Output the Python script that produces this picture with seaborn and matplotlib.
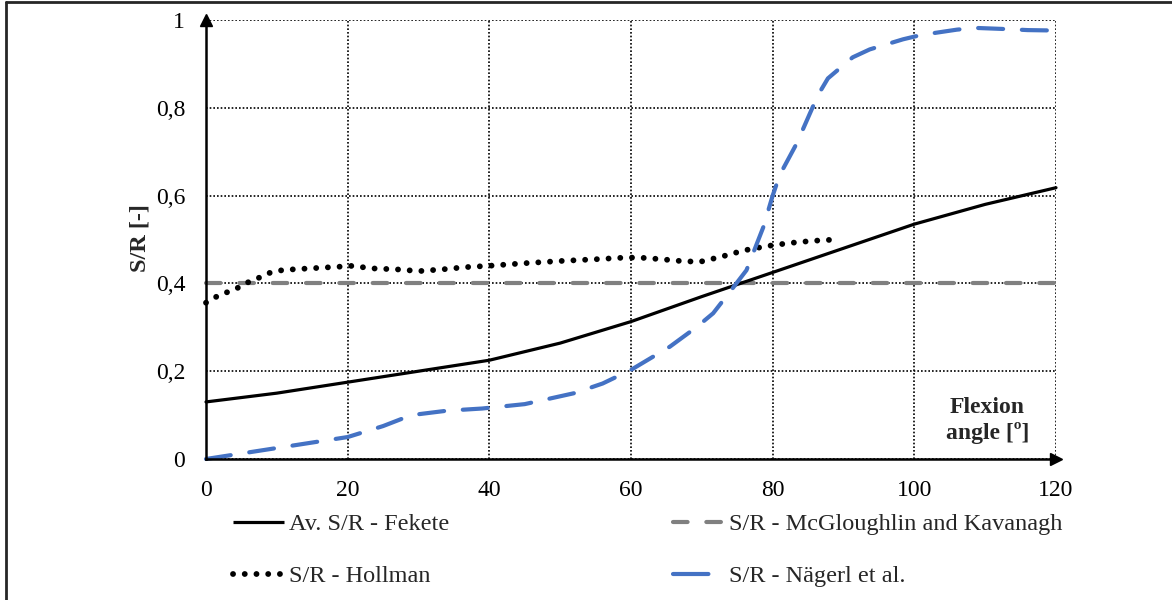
import numpy as np
import pandas as pd
import matplotlib.pyplot as plt
from matplotlib.lines import Line2D
import seaborn as sns

# Av. S/R - Fekete
fek_x = [0, 10, 20, 30, 40, 50, 60, 70, 80, 90, 100, 110, 120]
fek_y = [0.13, 0.15, 0.175, 0.20, 0.225, 0.264, 0.313, 0.37, 0.425, 0.48, 0.535, 0.58, 0.618]

# S/R - McGloughlin and Kavanagh
mcg_x = [0, 120]
mcg_y = [0.4, 0.4]

# S/R - Hollman
hol_x = [0, 1.5, 3, 4.5, 6, 7.5, 9, 10.7, 12.3, 15.5, 18.8, 20.4, 23.7, 26.9, 30.1,
         33.4, 36.6, 39.9, 45, 50, 55, 59.4, 62, 64.3, 67, 69.7, 72.8, 75.9,
         79.2, 82.4, 85.7, 89]
hol_y = [0.356, 0.37, 0.38, 0.39, 0.403, 0.413, 0.424, 0.43, 0.432, 0.435, 0.438, 0.44,
         0.434, 0.432, 0.428, 0.432, 0.437, 0.44, 0.446, 0.451, 0.455, 0.459, 0.458,
         0.455, 0.451, 0.449, 0.461, 0.475, 0.485, 0.492, 0.497, 0.5]

# S/R - Nägerl et al.
nag_x = [0, 10, 20, 25, 29, 34, 39, 45, 52, 56, 60, 65.5, 69.3, 71.6, 74.4, 76.3,
         78.7, 80, 81, 83.4, 86.4, 87.8, 91.3, 93.7, 98.4, 101, 106, 108.6, 113.5,
         116, 120]
nag_y = [0, 0.025, 0.05, 0.075, 0.1, 0.11, 0.115, 0.125, 0.15, 0.172, 0.203, 0.256,
         0.301, 0.332, 0.39, 0.43, 0.529, 0.6, 0.647, 0.719, 0.829, 0.867, 0.915,
         0.933, 0.956, 0.966, 0.978, 0.982, 0.979, 0.977, 0.976]

xticks = [0, 20, 40, 60, 80, 100, 120]
yticks = [0, 0.2, 0.4, 0.6, 0.8, 1.0]
ytick_labels = ['0', '0,2', '0,4', '0,6', '0,8', '1']

BLUE = '#4472C4'
GREY = '#808080'
DOTS = (0, (0.01, 2.0))

sns.set_theme(style='white')
plt.rcParams['font.family'] = ['Liberation Serif', 'DejaVu Serif']

fig = plt.figure(figsize=(11.72, 6), dpi=100)
ax = fig.add_axes([206/1172, 1-459/600, 850/1172, 439/600])

ax.grid(True, linestyle=(0, (1, 1.2)), color='black', lw=1.2)
ax.set_axisbelow(True)

sns.lineplot(x=mcg_x, y=mcg_y, ax=ax, color=GREY, lw=3, linestyle=(0, (3.5, 4.5)),
             dash_capstyle='round', clip_on=False, zorder=3)
sns.lineplot(x=fek_x, y=fek_y, ax=ax, color='black', lw=2.3, clip_on=False, zorder=4)
sns.lineplot(x=hol_x, y=hol_y, ax=ax, color='black', lw=4.2, linestyle=DOTS,
             dash_capstyle='round', clip_on=False, zorder=4)
sns.lineplot(x=nag_x, y=nag_y, ax=ax, color=BLUE, lw=3, linestyle=(0, (6, 4.5)),
             dash_capstyle='round', clip_on=False, zorder=5, sort=False)

ax.set_xlim(0, 120)
ax.set_ylim(0, 1)
ax.set_xticks(xticks)
ax.set_yticks(yticks)
ax.set_yticklabels(ytick_labels)
ax.tick_params(length=0, labelsize=17, colors='black')
ax.tick_params(axis='x', pad=15)
ax.tick_params(axis='y', pad=15)
for s in ['top', 'right']:
    ax.spines[s].set_visible(False)
for s in ['left', 'bottom']:
    ax.spines[s].set_color('black')
    ax.spines[s].set_linewidth(1.8)
    ax.spines[s].set_zorder(6)

ax.plot(0, 1, '^', color='black', ms=9, transform=ax.transAxes, clip_on=False, zorder=7)
ax.plot(1, 0, '>', color='black', ms=9, transform=ax.transAxes, clip_on=False, zorder=7)

ax.set_xlabel('')
ax.set_ylabel('')
ax.text(110.3, 0.088, 'Flexion\nangle [º]', ha='center', va='center', fontsize=17,
        fontweight='bold', linespacing=1.2)
fig.text(140/1172, 1-238/600, 'S/R [-]', rotation=90, ha='center', va='center',
         fontsize=17.5, fontweight='bold')

h_fek = Line2D([], [], color='black', lw=2.3, solid_capstyle='butt')
h_hol = Line2D([], [], color='black', lw=4.2, linestyle=DOTS, dash_capstyle='round')
h_mcg = Line2D([], [], color=GREY, lw=3, linestyle=(0, (3.5, 4.5)), dash_capstyle='round')
h_nag = Line2D([], [], color=BLUE, lw=3, linestyle=(0, (8.5, 10)), dash_capstyle='round')

leg_kw = dict(loc='upper left', frameon=False, fontsize=17.5, handlelength=2.1,
              handletextpad=0.2, labelspacing=1.25, borderpad=0, borderaxespad=0)
fig.legend([h_fek, h_hol], ['Av. S/R - Fekete', 'S/R - Hollman'],
           bbox_to_anchor=(233/1172, 1-513/600), **leg_kw)
fig.legend([h_mcg, h_nag], ['S/R - McGloughlin and Kavanagh', 'S/R - Nägerl et al.'],
           bbox_to_anchor=(673/1172, 1-513/600), **leg_kw)

fig.add_artist(Line2D([6/1172, 1], [1-2/600, 1-2/600], transform=fig.transFigure,
                      color='#262626', lw=2))
fig.add_artist(Line2D([6/1172, 6/1172], [0, 1-2/600], transform=fig.transFigure,
                      color='#262626', lw=2))

fig.savefig('out.png', dpi=100, facecolor='white')
